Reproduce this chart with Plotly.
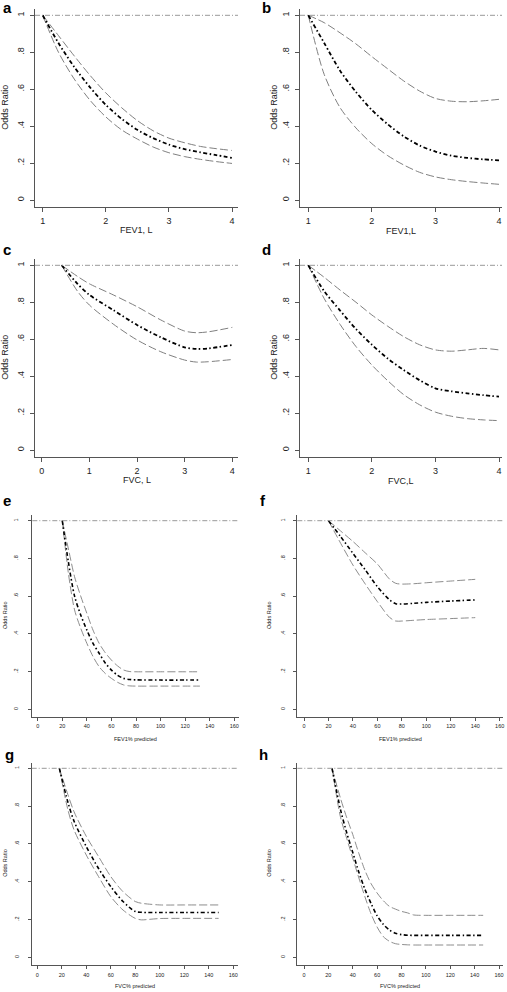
import plotly.graph_objects as go

W, H = 507, 992

# ---------------- data ----------------
a_x = [1, 1.25, 1.5, 1.75, 2, 2.25, 2.5, 2.75, 3, 3.25, 3.5, 3.75, 4]
a_est = [1, 0.85, 0.72, 0.61, 0.515, 0.44, 0.38, 0.335, 0.30, 0.275, 0.258, 0.243, 0.228]
a_hi = [1, 0.89, 0.78, 0.675, 0.58, 0.5, 0.43, 0.375, 0.335, 0.31, 0.29, 0.278, 0.268]
a_lo = [1, 0.8, 0.655, 0.54, 0.45, 0.38, 0.33, 0.287, 0.256, 0.235, 0.22, 0.208, 0.198]

b_x = [1, 1.25, 1.5, 1.75, 2, 2.25, 2.5, 2.75, 3, 3.25, 3.5, 3.75, 4]
b_est = [1, 0.85, 0.70, 0.585, 0.487, 0.41, 0.345, 0.295, 0.262, 0.24, 0.228, 0.22, 0.215]
b_hi = [1, 0.96, 0.905, 0.845, 0.776, 0.71, 0.645, 0.59, 0.55, 0.535, 0.532, 0.537, 0.545]
b_lo = [1, 0.68, 0.5, 0.39, 0.305, 0.24, 0.19, 0.15, 0.125, 0.11, 0.1, 0.092, 0.085]

c_x = [0.42, 0.75, 1, 1.5, 2, 2.5, 3, 3.25, 3.5, 4]
c_est = [1, 0.9, 0.84, 0.758, 0.677, 0.61, 0.556, 0.547, 0.55, 0.569]
c_hi = [1, 0.94, 0.9, 0.84, 0.776, 0.704, 0.644, 0.635, 0.64, 0.664]
c_lo = [1, 0.86, 0.785, 0.682, 0.596, 0.532, 0.487, 0.476, 0.478, 0.49]

d_x = [1, 1.25, 1.5, 1.75, 2, 2.25, 2.5, 2.75, 3, 3.25, 3.5, 3.75, 4]
d_est = [1, 0.86, 0.755, 0.655, 0.57, 0.495, 0.433, 0.378, 0.334, 0.318, 0.307, 0.297, 0.289]
d_hi = [1, 0.935, 0.866, 0.8, 0.731, 0.67, 0.614, 0.57, 0.542, 0.535, 0.542, 0.55, 0.542]
d_lo = [1, 0.82, 0.68, 0.56, 0.46, 0.375, 0.3, 0.245, 0.205, 0.183, 0.17, 0.163, 0.159]

e_x = [20, 25, 30, 35, 40, 45, 50, 55, 60, 65, 70, 75, 80, 100, 120, 132]
e_est = [1, 0.78, 0.6, 0.5, 0.42, 0.35, 0.297, 0.245, 0.208, 0.18, 0.164, 0.158, 0.156, 0.155, 0.155, 0.155]
e_hi = [1, 0.85, 0.703, 0.6, 0.509, 0.42, 0.35, 0.3, 0.261, 0.23, 0.208, 0.2, 0.199, 0.199, 0.199, 0.199]
e_lo = [1, 0.72, 0.527, 0.43, 0.35, 0.28, 0.226, 0.19, 0.164, 0.143, 0.129, 0.124, 0.123, 0.123, 0.123, 0.123]

f_x = [20, 30, 40, 50, 60, 70, 75, 80, 90, 100, 120, 140]
f_est = [1, 0.915, 0.827, 0.74, 0.65, 0.58, 0.56, 0.558, 0.562, 0.567, 0.574, 0.58]
f_hi = [1, 0.945, 0.89, 0.83, 0.77, 0.69, 0.668, 0.664, 0.666, 0.671, 0.68, 0.689]
f_lo = [1, 0.88, 0.765, 0.665, 0.571, 0.487, 0.468, 0.468, 0.472, 0.476, 0.481, 0.486]

g_x = [18, 25, 30, 40, 50, 60, 70, 80, 85, 90, 100, 120, 148]
g_est = [1, 0.82, 0.72, 0.586, 0.47, 0.374, 0.295, 0.242, 0.238, 0.237, 0.237, 0.237, 0.237]
g_hi = [1, 0.86, 0.77, 0.64, 0.533, 0.427, 0.347, 0.295, 0.286, 0.282, 0.277, 0.277, 0.277]
g_lo = [1, 0.78, 0.674, 0.541, 0.427, 0.321, 0.25, 0.206, 0.198, 0.2, 0.205, 0.206, 0.206]

h_x = [23, 30, 35, 40, 45, 50, 55, 60, 65, 70, 75, 80, 85, 90, 100, 120, 147]
h_est = [1, 0.78, 0.66, 0.555, 0.45, 0.36, 0.285, 0.22, 0.175, 0.145, 0.127, 0.12, 0.117, 0.116, 0.116, 0.116, 0.116]
h_hi = [1, 0.84, 0.74, 0.65, 0.55, 0.46, 0.39, 0.34, 0.3, 0.27, 0.255, 0.243, 0.235, 0.224, 0.222, 0.222, 0.222]
h_lo = [1, 0.74, 0.63, 0.525, 0.42, 0.32, 0.23, 0.16, 0.11, 0.085, 0.072, 0.068, 0.066, 0.065, 0.065, 0.065, 0.065]

y_ticks = [0, 0.2, 0.4, 0.6, 0.8, 1]
y_ticktext = ["0", ".2", ".4", ".6", ".8", "1"]
ticks_L = [1, 2, 3, 4]
ticks_FVC = [0, 1, 2, 3, 4]
ticks_pct = [0, 20, 40, 60, 80, 100, 120, 140, 160]
ref_value = 1

# ---------------- panel geometry (pixels) ----------------
panels = [
    dict(lab="a", x=a_x, est=a_est, hi=a_hi, lo=a_lo, xt=ticks_L, xtitle="FEV1, L",
         xc=(42.7, 1, 232, 4), xe=(35, 238), yc=(15.3, 200), ye=(9, 207),
         fs=9, tl=4, ys=2, labpos=(7, 8), ytx=5, xty=230),
    dict(lab="b", x=b_x, est=b_est, hi=b_hi, lo=b_lo, xt=ticks_L, xtitle="FEV1,L",
         xc=(308.3, 1, 499, 4), xe=(300, 502), yc=(15.3, 200), ye=(9, 207),
         fs=9, tl=4, ys=2, labpos=(266, 8), ytx=274, xty=231),
    dict(lab="c", x=c_x, est=c_est, hi=c_hi, lo=c_lo, xt=ticks_FVC, xtitle="FVC, L",
         xc=(41.7, 0, 232.3, 4), xe=(35, 238), yc=(265.3, 450), ye=(259, 457),
         fs=9, tl=4, ys=2, labpos=(7, 250), ytx=5, xty=480),
    dict(lab="d", x=d_x, est=d_est, hi=d_hi, lo=d_lo, xt=ticks_L, xtitle="FVC,L",
         xc=(308.3, 1, 499, 4), xe=(300, 502), yc=(265.3, 450), ye=(259, 457),
         fs=9, tl=4, ys=2, labpos=(266, 250), ytx=274, xty=481),
    dict(lab="e", x=e_x, est=e_est, hi=e_hi, lo=e_lo, xt=ticks_pct, xtitle="FEV1% predicted",
         xc=(37.7, 0, 234.3, 160), xe=(32.3, 239), yc=(520.7, 709.3), ye=(515, 716.7),
         fs=5.5, tl=3, ys=8, labpos=(7, 500), ytx=5, xty=739),
    dict(lab="f", x=f_x, est=f_est, hi=f_hi, lo=f_lo, xt=ticks_pct, xtitle="FEV1% predicted",
         xc=(304, 0, 499.7, 160), xe=(297.3, 503), yc=(520.7, 709.3), ye=(515, 716.7),
         fs=5.5, tl=3, ys=6, labpos=(263, 500), ytx=269, xty=739),
    dict(lab="g", x=g_x, est=g_est, hi=g_hi, lo=g_lo, xt=ticks_pct, xtitle="FVC% predicted",
         xc=(37.3, 0, 233.3, 160), xe=(31.7, 238), yc=(768.3, 957.3), ye=(763, 965),
         fs=5.5, tl=3, ys=7, labpos=(9, 754), ytx=5, xty=986),
    dict(lab="h", x=h_x, est=h_est, hi=h_hi, lo=h_lo, xt=ticks_pct, xtitle="FVC% predicted",
         xc=(304, 0, 499, 160), xe=(297.3, 503), yc=(768.3, 957.3), ye=(763, 965),
         fs=5.5, tl=3, ys=6, labpos=(263, 754), ytx=269, xty=986),
]

FONT = "Liberation Sans, Arial, Helvetica, sans-serif"
AXC = "#555555"

fig = go.Figure()
layout = dict(width=W, height=H, margin=dict(l=0, r=0, t=0, b=0),
              paper_bgcolor="white", plot_bgcolor="white", showlegend=False,
              font=dict(family=FONT, color="#222"))
annotations = []
shapes = []

for i, p in enumerate(panels):
    n = i + 1
    xs = "" if n == 1 else str(n)
    xref, yref = "x" + xs, "y" + xs
    p0, v0, p1, v1 = p["xc"]
    sc = (v1 - v0) / (p1 - p0)
    xr = [v0 + (p["xe"][0] - p0) * sc, v0 + (p["xe"][1] - p0) * sc]
    py1, py0 = p["yc"]
    ysc = 1.0 / (py0 - py1)
    yr = [(py0 - p["ye"][1]) * ysc, (py0 - p["ye"][0]) * ysc]

    xdom = [p["xe"][0] / W, p["xe"][1] / W]
    ydom = [1 - p["ye"][1] / H, 1 - p["ye"][0] / H]

    fs = p["fs"]
    common = dict(showline=True, linecolor=AXC, linewidth=1, ticks="outside",
                  ticklen=p["tl"], tickcolor=AXC, tickwidth=1, showgrid=False,
                  zeroline=False, ticklabeloverflow="allow",
                  tickfont=dict(size=fs, family=FONT, color="#222"))
    layout["xaxis" + xs] = dict(domain=xdom, range=xr, anchor=yref,
                                tickvals=p["xt"], ticktext=[str(t) for t in p["xt"]],
                                ticklabelstandoff=1, **common)
    layout["yaxis" + xs] = dict(domain=ydom, range=yr, anchor=xref,
                                tickvals=y_ticks, ticktext=y_ticktext, tickangle=-90,
                                ticklabelstandoff=p["ys"], **common)

    lw_ci = 1.0 if fs > 7 else 0.9
    lw_est = 1.8 if fs > 7 else 1.6
    for key in ("hi", "lo"):
        fig.add_trace(go.Scatter(x=p["x"], y=p[key], mode="lines", xaxis=xref, yaxis=yref,
                                 line=dict(color="#808080", width=lw_ci, dash="8px,3px",
                                           shape="spline", smoothing=0.8)))
    fig.add_trace(go.Scatter(x=p["x"], y=p["est"], mode="lines", xaxis=xref, yaxis=yref,
                             line=dict(color="#000000", width=lw_est, dash="4px,2.5px,1.5px,2.5px",
                                       shape="spline", smoothing=0.8)))

    shapes.append(dict(type="line", xref=xref + " domain", yref=yref, x0=0, x1=1,
                       y0=ref_value, y1=ref_value,
                       line=dict(color="#999999", width=1, dash="5px,2px,1px,2px")))

    annotations.append(dict(text="<b>%s</b>" % p["lab"], x=p["labpos"][0] / W,
                            y=1 - p["labpos"][1] / H, xref="paper", yref="paper",
                            showarrow=False, xanchor="center", yanchor="middle",
                            font=dict(size=15, family=FONT, color="#000")))
    annotations.append(dict(text=p["xtitle"], x=(p["xe"][0] + p["xe"][1]) / 2 / W,
                            y=1 - p["xty"] / H, xref="paper", yref="paper",
                            showarrow=False, xanchor="center", yanchor="middle",
                            font=dict(size=fs, family=FONT, color="#222")))
    annotations.append(dict(text="Odds Ratio", x=p["ytx"] / W,
                            y=1 - (py1 + py0) / 2 / H, xref="paper", yref="paper",
                            showarrow=False, textangle=-90, xanchor="center", yanchor="middle",
                            font=dict(size=fs, family=FONT, color="#222")))

layout["annotations"] = annotations
layout["shapes"] = shapes
fig.update_layout(**layout)
fig.write_html("out.html", config={"displayModeBar": False},
               post_script="document.body.style.margin='0';document.body.style.overflow='hidden';")
